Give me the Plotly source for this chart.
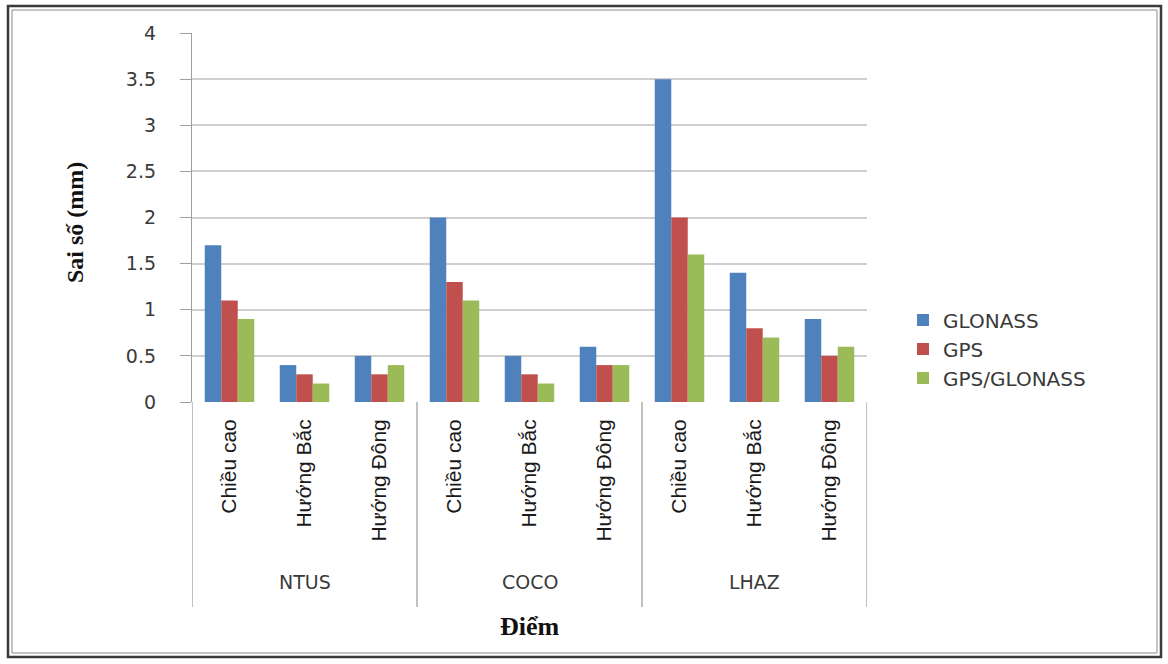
import plotly.graph_objects as go

# Station groups and the three error components measured at each station
stations = ["NTUS", "COCO", "LHAZ"]
components = ["Chiều cao", "Hướng Bắc", "Hướng Đông"]

# Error values (mm), ordered station by station, component by component
glonass = [1.7, 0.4, 0.5, 2.0, 0.5, 0.6, 3.5, 1.4, 0.9]
gps = [1.1, 0.3, 0.3, 1.3, 0.3, 0.4, 2.0, 0.8, 0.5]
gps_glonass = [0.9, 0.2, 0.4, 1.1, 0.2, 0.4, 1.6, 0.7, 0.6]

series = [
    ("GLONASS", glonass, "#4F81BD"),
    ("GPS", gps, "#C0504D"),
    ("GPS/GLONASS", gps_glonass, "#9BBB59"),
]

n_comp = len(components)
positions = list(range(len(stations) * n_comp))
tick_text = [components[i % n_comp] for i in positions]

fig = go.Figure()
for name, values, color in series:
    fig.add_trace(go.Bar(
        x=positions, y=values, name=name,
        marker=dict(color=color, line=dict(width=0)),
    ))

# Pixel geometry of the plot area
W, H = 1168, 664
L, R, T, B = 192, 867, 33, 402
pw, ph = R - L, B - T


def px(xp):
    return (xp - L) / pw


def py(yp):
    return (B - yp) / ph


grid_col = "#cfcfcf"
axis_col = "#a0a0a0"
label_col = "#3a3a3a"

shapes = []
annotations = []

# Group dividers under the category axis
for g in range(len(stations) + 1):
    xd = g * n_comp - 0.5
    shapes.append(dict(type="line", xref="x", yref="paper",
                       x0=xd, x1=xd, y0=0, y1=py(607),
                       line=dict(color=axis_col, width=1.3)))

# Station names centred in each group
for g, st in enumerate(stations):
    annotations.append(dict(
        text=st, xref="x", yref="paper",
        x=g * n_comp + (n_comp - 1) / 2, y=py(582),
        showarrow=False, xanchor="center", yanchor="middle",
        font=dict(family="DejaVu Sans", size=19, color=label_col),
    ))

# Axis titles
annotations.append(dict(
    text="<b>Điểm</b>", xref="paper", yref="paper",
    x=0.5, y=py(626), showarrow=False, xanchor="center", yanchor="middle",
    font=dict(family="Liberation Serif", size=26, color="#111111"),
))
annotations.append(dict(
    text="<b>Sai số (mm)</b>", xref="paper", yref="paper",
    x=px(75), y=py(223), showarrow=False, textangle=-90,
    xanchor="center", yanchor="middle",
    font=dict(family="Liberation Serif", size=24, color="#111111"),
))

# Outer frame (double line)
shapes.append(dict(type="rect", xref="paper", yref="paper",
                   x0=px(8), x1=px(1161), y0=py(657), y1=py(6),
                   line=dict(color="#3a3a3a", width=2.5)))
shapes.append(dict(type="rect", xref="paper", yref="paper",
                   x0=px(12), x1=px(1157), y0=py(653), y1=py(10),
                   line=dict(color="#8a8a8a", width=1)))

fig.update_layout(
    width=W, height=H,
    margin=dict(l=L, r=W - R, t=T, b=H - B, pad=0),
    paper_bgcolor="white", plot_bgcolor="white",
    barmode="group", bargap=0.34, bargroupgap=0,
    showlegend=True,
    legend=dict(
        x=px(903), y=py(349), xanchor="left", yanchor="middle",
        font=dict(family="DejaVu Sans", size=20, color=label_col),
        itemwidth=30, tracegroupgap=0, bgcolor="rgba(0,0,0,0)",
    ),
    shapes=shapes,
    annotations=annotations,
    xaxis=dict(
        range=[-0.5, len(positions) - 0.5],
        tickmode="array", tickvals=positions, ticktext=tick_text,
        tickangle=-90, ticks="", showgrid=False, zeroline=False,
        showline=False, ticklabelstandoff=12,
        tickfont=dict(family="Liberation Sans", size=21, color="#1a1a1a"),
    ),
    yaxis=dict(
        range=[0, 4], dtick=0.5, tick0=0,
        showgrid=True, gridcolor=grid_col, gridwidth=1.5,
        zeroline=False, showline=True, linecolor=axis_col, linewidth=1.3,
        ticks="outside", ticklen=11, tickcolor=axis_col, tickwidth=1.3,
        ticklabelstandoff=20,
        tickfont=dict(family="DejaVu Sans", size=19, color=label_col),
    ),
)

fig.write_html("out.html")
